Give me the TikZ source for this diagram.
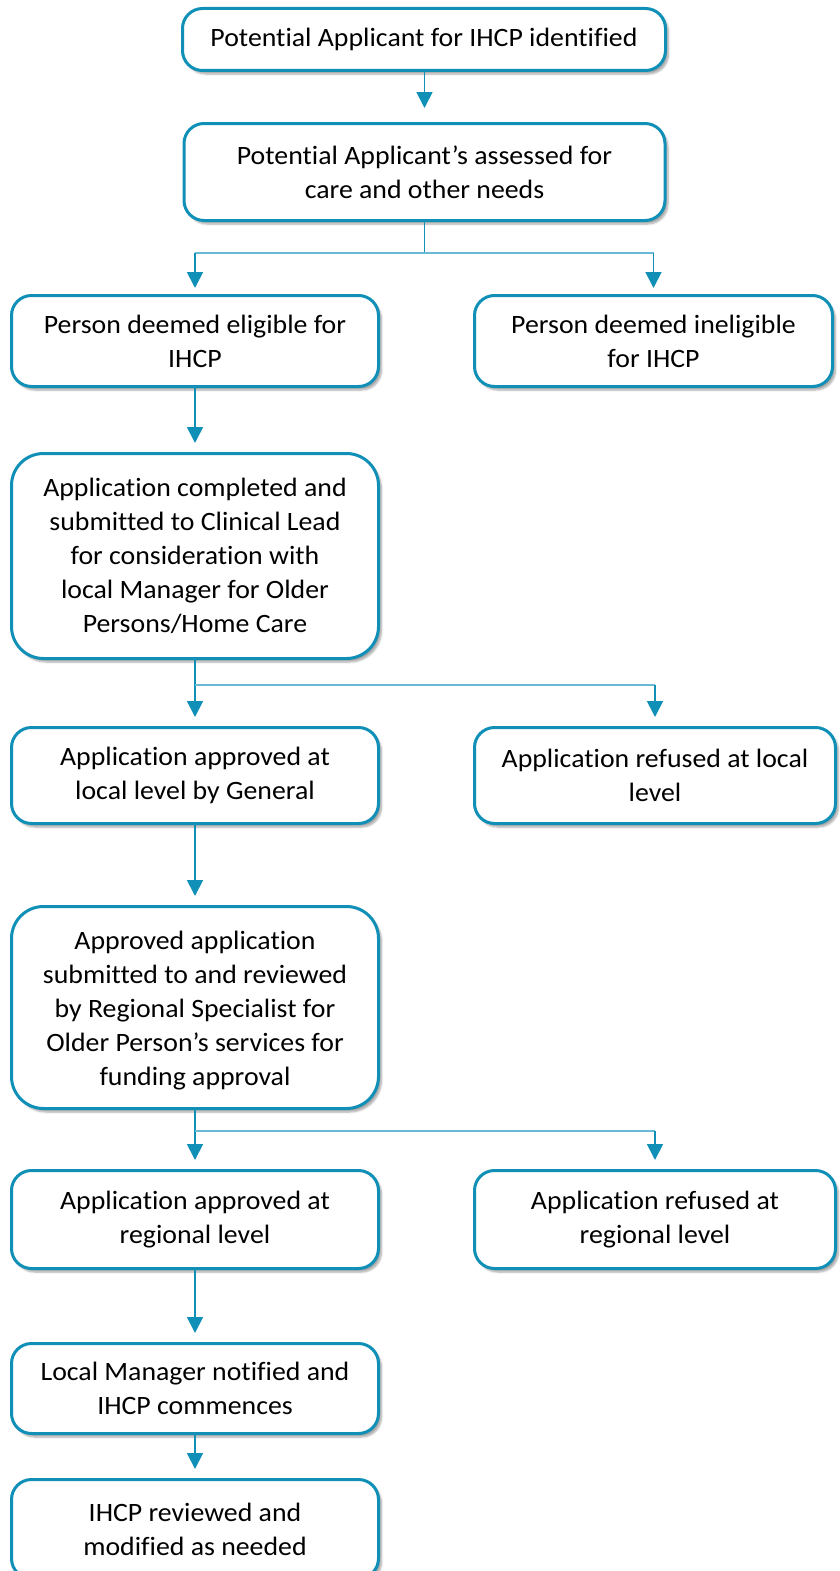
\documentclass[tikz,border=0pt]{standalone}
\usepackage{fontspec}
\setmainfont[FakeStretch=1.05, Ligatures=NoCommon]{Carlito}
\usetikzlibrary{arrows.meta,shadows.blur}
\definecolor{flowblue}{RGB}{16,143,183}
\definecolor{flowline}{RGB}{105,186,212}
\begin{document}
\begin{tikzpicture}[x=1pt,y=-1pt,
  boxtext/.style={align=center, inner sep=0pt, font=\fontsize{26.5}{34}\selectfont},
  box/.style={boxtext, draw=flowblue, line width=3pt, rounded corners=20pt, fill=white,
    blur shadow={shadow xshift=3pt, shadow yshift=-3.5pt, shadow blur steps=6, shadow opacity=35}},
  tallbox/.style={box, rounded corners=32pt},
  link/.style={draw=flowblue, line width=1.8pt},
  arr/.style={link, -{Triangle[width=16pt,length=16pt]}, shorten >=9pt},
  fork/.style={draw=flowline, line width=1.2pt}]
\useasboundingbox (0,0) rectangle (839,1571);

% boxes of the flow
\node[box, minimum width=483, minimum height=62] (ident) at (424,39.5)
  {Potential Applicant for IHCP identified};
\node[box, minimum width=481, minimum height=97] (assess) at (424.5,172)
  {Potential Applicant’s assessed for\\care and other needs};
\node[box, minimum width=367, minimum height=91] (elig) at (195,341)
  {Person deemed eligible for\\IHCP};
\node[box, minimum width=358, minimum height=91] (inelig) at (653.5,341)
  {Person deemed ineligible\\for IHCP};
\node[tallbox, minimum width=367, minimum height=205] (appl) at (195,556)
  {Application completed and\\submitted to Clinical Lead\\for consideration with\\local Manager for Older\\Persons/Home Care};
\node[box, minimum width=367, minimum height=96] (localok) at (195,775.5)
  {Application approved at\\local level by General};
\node[box, minimum width=361, minimum height=96] (localno) at (655,775.5)
  {Application refused at local\\level};
\node[tallbox, minimum width=367, minimum height=202] (review) at (195,1007.5) {};
\begin{scope}
  \clip (10,905) rectangle (380,1089);
  \node[boxtext] (reviewtext) at (195,1011)
    {Approved application\\submitted to and reviewed\\by Regional Specialist for\\Older Person’s services for\\funding approval};
\end{scope}
\node[box, minimum width=367, minimum height=98] (regok) at (195,1219.5)
  {Application approved at\\regional level};
\node[box, minimum width=361, minimum height=98] (regno) at (655,1219.5)
  {Application refused at\\regional level};
\node[box, minimum width=367, minimum height=90] (notify) at (195,1388.5)
  {Local Manager notified and\\IHCP commences};
\node[box, minimum width=367, minimum height=99] (modify) at (195,1529)
  {IHCP reviewed and\\modified as needed};

% straight links
\draw[arr, shorten >=14pt] (ident.south) -- (ident.south -| assess.north) -- (assess.north);
\draw[arr] (elig.south) -- (appl.north);
\draw[arr] (localok.south) -- (review.north);
\draw[arr] (regok.south) -- (notify.north);
\draw[arr] (notify.south) -- (modify.north);

% first fork: eligible / ineligible
\coordinate (j1) at (424.5,253);
\draw[link] (assess.south) -- (j1);
\draw[fork] (elig.north |- j1) -- (inelig.north |- j1);
\draw[arr, shorten >=6pt] (elig.north |- j1) -- (elig.north);
\draw[arr, shorten >=6pt] (inelig.north |- j1) -- (inelig.north);

% second fork: local decision
\coordinate (j2) at (195,685);
\draw[arr] (appl.south) -- (localok.north);
\draw[fork] (j2) -- (localno.north |- j2);
\draw[arr] (localno.north |- j2) -- (localno.north);

% third fork: regional decision
\coordinate (j3) at (195,1131);
\draw[arr] (review.south) -- (regok.north);
\draw[fork] (j3) -- (regno.north |- j3);
\draw[arr] (regno.north |- j3) -- (regno.north);
\end{tikzpicture}
\end{document}
